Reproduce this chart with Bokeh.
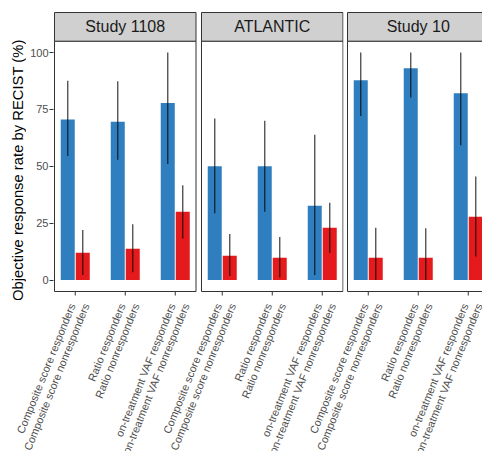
from bokeh.plotting import figure
from bokeh.layouts import row, column
from bokeh.models import FixedTicker, Range1d
from bokeh.core.properties import value
from bokeh.embed import file_html
from bokeh.resources import INLINE

# ---------------- data ----------------
studies = ["Study 1108", "ATLANTIC", "Study 10"]
categories = [1, 2, 3]
label_line1 = ["Composite score responders", "Ratio responders", "on-treatment VAF responders"]
label_line2 = ["Composite score nonresponders", "Ratio nonresponders", "on-treatment VAF nonresponders"]
y_title = "Objective response rate by RECIST (%)"

# Objective response rate (%) with confidence interval bounds
study1108_resp = [70.6, 69.6, 77.8]
study1108_resp_lo = [54.5, 52.9, 51.0]
study1108_resp_hi = [87.6, 87.4, 100.0]
study1108_non = [12.0, 13.8, 30.0]
study1108_non_lo = [2.2, 3.5, 18.3]
study1108_non_hi = [22.0, 24.5, 41.7]

atlantic_resp = [50.0, 50.0, 32.7]
atlantic_resp_lo = [29.4, 30.0, 2.3]
atlantic_resp_hi = [71.0, 70.0, 63.9]
atlantic_non = [10.7, 9.8, 23.0]
atlantic_non_lo = [1.8, 1.2, 12.0]
atlantic_non_hi = [20.3, 19.0, 34.0]

study10_resp = [87.8, 93.1, 82.1]
study10_resp_lo = [72.1, 80.2, 59.3]
study10_resp_hi = [100.0, 100.0, 100.0]
study10_non = [9.8, 9.8, 27.9]
study10_non_lo = [0.0, 0.0, 10.4]
study10_non_hi = [23.0, 22.8, 45.5]

y_ticks = [0, 25, 50, 75, 100]

panels = [
    (study1108_resp, study1108_resp_lo, study1108_resp_hi, study1108_non, study1108_non_lo, study1108_non_hi),
    (atlantic_resp, atlantic_resp_lo, atlantic_resp_hi, atlantic_non, atlantic_non_lo, atlantic_non_hi),
    (study10_resp, study10_resp_lo, study10_resp_hi, study10_non, study10_non_lo, study10_non_hi),
]

# ---------------- style / layout ----------------
FONT = "Liberation Sans"
BLUE = "#2f7ebf"
RED = "#e41a1c"
STRIP = "#d0d0d0"
BORDER = "#333333"
TXT = "#4d4d4d"
PX = 50.0                 # px per category unit
X0 = 0.585                # panel left edge, category units
PW = 2.83                 # panel width, category units
PITCH = 2.93              # panel pitch (shared x coordinate)
Y0, Y_PANEL_TOP, Y1 = -5.0, 105.0, 117.6
PANEL_H = 279
Y_SCALE = PANEL_H / (Y1 - Y0)   # px per y unit
BELOW = 9                 # px of frame kept below each panel for tick marks
TITLE_W = 26
frame_w = [144, 143, 136]
borders = [(27, 1), (2, 1), (2, 0)]
TOP = 11
ROW_H = TOP + 1 + PANEL_H + BELOW
TOTAL_W, TOTAL_H = 482, 451
LAB_H = TOTAL_H - ROW_H
OFFSET = 0.15
BAR_W = 0.28
ANGLE = 68
TICK_LEN = 4

y_lo = Y0 - BELOW / Y_SCALE

# y-axis title (own narrow figure sharing the vertical scale)
tfig = figure(width=TITLE_W, height=ROW_H, x_range=Range1d(0, 1),
              y_range=Range1d(y_lo, Y1 + (TOP + 1) / Y_SCALE),
              output_backend="svg", toolbar_location=None, x_axis_location=None, y_axis_location=None,
              min_border_left=0, min_border_right=0, min_border_top=0, min_border_bottom=0)
tfig.outline_line_color = None
tfig.xgrid.visible = False
tfig.ygrid.visible = False
tfig.text(x=[0.69], y=[(Y0 + Y_PANEL_TOP) / 2 + 0.5], text=[y_title], angle=90, angle_units="deg",
          text_align="center", text_baseline="middle", text_font=value(FONT),
          text_font_size="14.8px", text_color="black")

figs = [tfig]
for k, (name, data) in enumerate(zip(studies, panels)):
    resp, resp_lo, resp_hi, non, non_lo, non_hi = data
    bl, br = borders[k]
    pl = k * PITCH + X0
    pr = pl + PW
    xs = pl - 1 / PX
    p = figure(width=bl + frame_w[k] + br, height=ROW_H,
               x_range=Range1d(xs, xs + frame_w[k] / PX),
               y_range=Range1d(y_lo, Y1 + 1 / Y_SCALE),
               output_backend="svg", toolbar_location=None,
               x_axis_location=None,
               y_axis_location="left" if k == 0 else None,
               min_border_left=bl, min_border_right=br,
               min_border_top=TOP, min_border_bottom=0)
    p.xgrid.visible = False
    p.ygrid.visible = False
    p.outline_line_color = None
    p.background_fill_color = "white"
    p.border_fill_color = "white"

    # panel box and facet strip
    p.quad(left=[pl], right=[pr], bottom=[Y0], top=[Y_PANEL_TOP], fill_color=None,
           line_color=BORDER, line_width=1)
    p.quad(left=[pl], right=[pr], bottom=[Y_PANEL_TOP], top=[Y1], fill_color=STRIP,
           line_color=BORDER, line_width=1)
    p.text(x=[k * PITCH + 2], y=[(Y_PANEL_TOP + Y1) / 2], text=[name], text_align="center",
           text_baseline="middle", text_font=value(FONT), text_font_size="16px", text_color="#1a1a1a")

    # x tick marks
    tx = [k * PITCH + c for c in categories]
    p.segment(x0=tx, y0=[Y0] * 3, x1=tx, y1=[Y0 - TICK_LEN / Y_SCALE] * 3,
              line_color=BORDER, line_width=1)

    xr = [k * PITCH + c - OFFSET for c in categories]
    xn = [k * PITCH + c + OFFSET for c in categories]
    p.vbar(x=xr, top=resp, bottom=0, width=BAR_W, fill_color=BLUE, line_color=None)
    p.vbar(x=xn, top=non, bottom=0, width=BAR_W, fill_color=RED, line_color=None)
    p.segment(x0=xr, y0=resp_lo, x1=xr, y1=resp_hi, line_color="black", line_alpha=0.72, line_width=1.3)
    p.segment(x0=xn, y0=non_lo, x1=xn, y1=non_hi, line_color="black", line_alpha=0.72, line_width=1.3)

    if k == 0:
        ya = p.yaxis[0]
        ya.ticker = FixedTicker(ticks=y_ticks)
        ya.axis_line_color = None
        ya.major_tick_line_color = BORDER
        ya.major_tick_out = 4
        ya.major_tick_in = 0
        ya.minor_tick_line_color = None
        ya.major_label_standoff = 1
        ya.major_label_text_font = FONT
        ya.major_label_text_font_size = "11px"
        ya.major_label_text_color = TXT
    figs.append(p)

# rotated two-line category labels, in the same shared x coordinate
left_u = X0 - (TITLE_W + borders[0][0] + 1) / PX
lab = figure(width=TOTAL_W, height=LAB_H,
             x_range=Range1d(left_u, left_u + TOTAL_W / PX), y_range=Range1d(-LAB_H, 0),
             output_backend="svg", toolbar_location=None, x_axis_location=None, y_axis_location=None,
             min_border_left=0, min_border_right=0, min_border_top=0, min_border_bottom=0)
lab.outline_line_color = None
lab.xgrid.visible = False
lab.ygrid.visible = False
lab_x = [k * PITCH + c for k in range(len(studies)) for c in categories]
lab_t1 = [t for _ in studies for t in label_line1]
lab_t2 = [t for _ in studies for t in label_line2]
for texts, dx in ((lab_t1, -3.2), (lab_t2, 10.8)):
    lab.text(x=lab_x, y=[-3.4] * len(lab_x), text=texts, x_offset=dx, angle=ANGLE, angle_units="deg",
             text_align="right", text_baseline="middle", text_font=value(FONT),
             text_font_size="10.9px", text_color=TXT)

layout = column(row(*figs, spacing=0), lab, spacing=0)
open("out.html", "w").write(file_html(layout, INLINE))
